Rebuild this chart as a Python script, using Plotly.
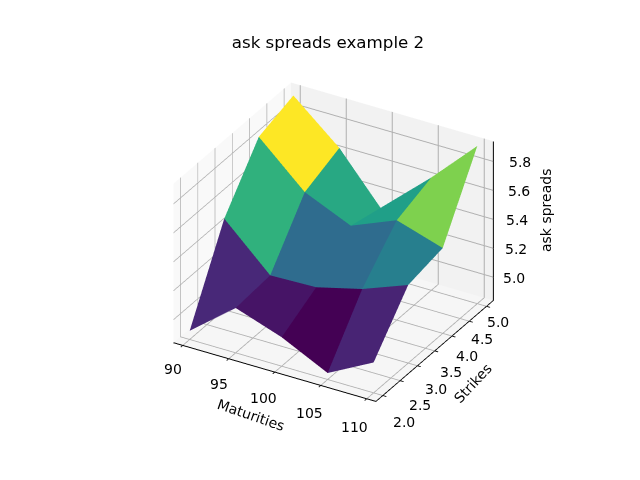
import plotly.graph_objects as go

maturities = [90, 95, 100, 105, 110]
strikes = [2, 3, 4, 5]
spreads_k2 = [4.90, 5.15, 5.04, 4.885, 5.05]
spreads_k3 = [5.47, 5.17, 5.18, 5.26, 5.38]
spreads_k4 = [5.83, 5.54, 5.40, 5.53, 5.43]
spreads_k5 = [5.91, 5.64, 5.27, 5.62, 5.93]
rows = [spreads_k2, spreads_k3, spreads_k4, spreads_k5]
# colour level of each face (row by row, 0..1 on viridis)
face_levels = [0.11, 0.055, 0.0, 0.10,
               0.64, 0.35, 0.35, 0.43,
               1.0, 0.60, 0.56, 0.80]

title_text = "ask spreads example 2"
x_label = "Maturities"
y_label = "Strikes"
z_label = "ask spreads"
y_ticks = [2, 2.5, 3, 3.5, 4, 4.5, 5]
z_ticks = [5.0, 5.2, 5.4, 5.6, 5.8]
x_range = [89, 111]
y_range = [1.8, 5.2]
z_range = [4.84, 5.94]

nx, ny = len(maturities), len(strikes)
vx, vy, vz = [], [], []
for r, s in enumerate(strikes):
    for c, m in enumerate(maturities):
        vx.append(m); vy.append(s); vz.append(rows[r][c])
I, J, K, cell = [], [], [], []
for r in range(ny - 1):
    for c in range(nx - 1):
        a = r * nx + c
        b, d, e = a + 1, a + nx, a + nx + 1
        lvl = face_levels[r * (nx - 1) + c]
        I += [a, a]; J += [b, e]; K += [e, d]; cell += [lvl, lvl]

fig = go.Figure(go.Mesh3d(
    x=vx, y=vy, z=vz, i=I, j=J, k=K,
    intensity=cell, intensitymode="cell", colorscale="Viridis",
    cmin=0, cmax=1, showscale=False, flatshading=True,
    lighting=dict(ambient=1, diffuse=0, specular=0, fresnel=0, roughness=1),
))

zx, zy, zz = [x_range[1], x_range[1]], [y_range[1], y_range[1]], list(z_range)
for t in z_ticks:
    zx += [None, x_range[1], x_range[1] + 0.35]
    zy += [None, y_range[1], y_range[1] - 0.05]
    zz += [None, t, t]
fig.add_trace(go.Scatter3d(x=zx, y=zy, z=zz, mode="lines",
                           line=dict(color="black", width=2),
                           showlegend=False, hoverinfo="skip"))

font = dict(family="DejaVu Sans", size=14, color="black")
def axis(rng, vals, bg, line=True, ticks="outside"):
    return dict(title=dict(text=""), range=rng, tickvals=vals, showticklabels=False,
                showbackground=True, backgroundcolor=bg, gridcolor="#b0b0b0", gridwidth=2,
                showline=line, linecolor="black", linewidth=2,
                ticks=ticks, ticklen=4, tickcolor="black", tickwidth=2,
                zeroline=False, showspikes=False)

ann = []
for n, m in enumerate(maturities):
    ann.append(dict(x=m, y=y_range[0], z=z_range[0], text=str(m), xshift=-9 - 0.75 * n,
                    yshift=-24 - 1.25 * n, showarrow=False, font=font))
for s in y_ticks:
    ann.append(dict(x=x_range[1], y=s, z=z_range[0], text=f"{s:.1f}", xshift=22 - 3.5 * (s - 2),
                    yshift=-27 + 3.6 * (s - 2), showarrow=False, font=font))
for n, t in enumerate(z_ticks):
    ann.append(dict(x=x_range[1], y=y_range[1], z=t, text=f"{t:.1f}", xshift=21 + 1.5 * n,
                    yshift=-1, showarrow=False, font=font))

def label(text, px, py, angle):
    return dict(text=text, x=px / 640, y=1 - py / 480, xref="paper", yref="paper",
                xanchor="center", yanchor="middle", showarrow=False, font=font, textangle=angle)

fig.update_layout(
    width=640, height=480, paper_bgcolor="white",
    margin=dict(l=0, r=0, t=0, b=0),
    title=dict(text=title_text, x=0.5, xanchor="center", y=0.928, yanchor="middle",
               font=dict(family="DejaVu Sans", size=16.7, color="black")),
    annotations=[label(x_label, 243, 407, 19), label(y_label, 465, 375, -47),
                 label(z_label, 538, 203, -90)],
    scene=dict(
        domain=dict(x=[0.018, 0.998], y=[0.026, 1.0]),
        xaxis=axis(x_range, maturities, "#f9f9f9"),
        yaxis=axis(y_range, y_ticks, "#f2f2f2"),
        zaxis=axis(z_range, z_ticks, "#f6f6f6", line=False, ticks=""),
        aspectmode="manual", aspectratio=dict(x=1, y=1, z=0.785),
        camera=dict(eye=dict(x=0.824, y=-1.419, z=0.946), center=dict(x=0, y=0, z=0),
                    up=dict(x=0, y=0, z=1), projection=dict(type="orthographic")),
        annotations=ann,
    ),
)
fig.write_html("out.html")
